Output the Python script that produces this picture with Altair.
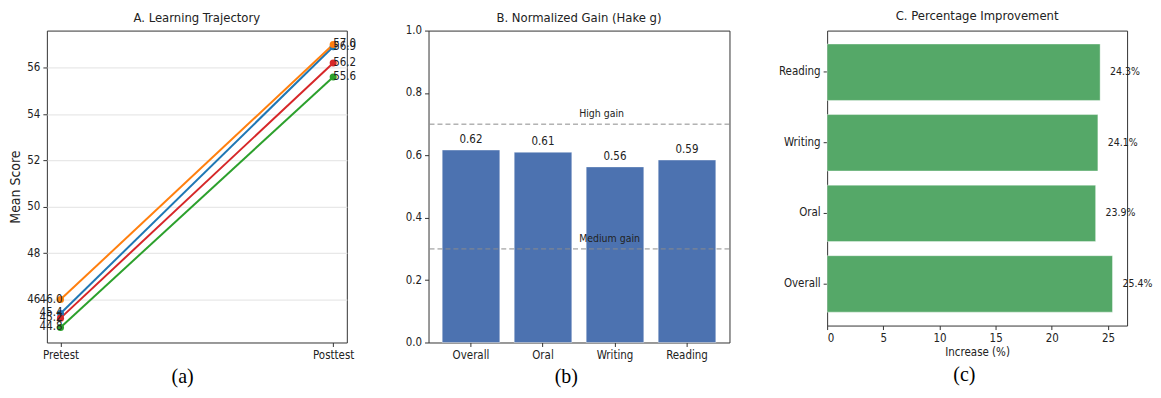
import altair as alt
import pandas as pd

# ---------------- data ----------------
skills = ["Overall", "Oral", "Writing", "Reading"]
phases = ["Pretest", "Posttest"]
pretest = [45.4, 46.0, 44.8, 45.2]
posttest = [56.9, 57.0, 55.6, 56.2]
hake_g = [0.617, 0.610, 0.563, 0.585]
hake_labels = ["0.62", "0.61", "0.56", "0.59"]
pct_improve = [25.4, 23.9, 24.1, 24.3]
threshold_values = [0.7, 0.3]
threshold_names = ["High gain", "Medium gain"]
line_colors = ["#1f77b4", "#ff7f0e", "#2ca02c", "#d62728"]
score_ticks = [46, 48, 50, 52, 54, 56]

FONT = "DejaVu Sans Condensed, DejaVu Sans"
INK = "#222222"

rows = []
for s, a, b in zip(skills, pretest, posttest):
    rows.append({"skill": s, "phase": phases[0], "score": a, "label": f"{a:.1f}"})
    rows.append({"skill": s, "phase": phases[1], "score": b, "label": f"{b:.1f}"})
traj_df = pd.DataFrame(rows)

gain_df = pd.DataFrame({"skill": skills, "g": hake_g, "label": hake_labels})
thr_df = pd.DataFrame({"t": threshold_values, "name": threshold_names, "skill": ["Writing", "Writing"]})
pct_df = pd.DataFrame({"skill": skills, "pct": pct_improve,
                       "lbl": [f"{v:.1f}%" for v in pct_improve]})

# ---------------- panel A ----------------
xa = alt.X("phase:N", sort=phases, scale=alt.Scale(type="point", padding=0.05),
           axis=alt.Axis(title=None, labelAngle=0, grid=False))
ya = alt.Y("score:Q", scale=alt.Scale(domain=[44.15, 57.6], nice=False, zero=False),
           axis=alt.Axis(title="Mean Score", values=score_ticks, grid=True,
                         gridColor="#e8e8e8", gridWidth=1.2, titleFontSize=14,
                         minExtent=20, maxExtent=20, titlePadding=4))
col = alt.Color("skill:N", scale=alt.Scale(domain=skills, range=line_colors), legend=None)

base_a = alt.Chart(traj_df).encode(x=xa, y=ya, color=col, detail="skill:N")
lines_a = base_a.mark_line(strokeWidth=2)
pts_a = base_a.mark_circle(size=50, opacity=1)
pre_txt = alt.Chart(traj_df).transform_filter(alt.datum.phase == "Pretest").mark_text(
    align="right", baseline="middle", dx=2, fontSize=11.5, font=FONT, color=INK
).encode(x=xa, y=ya, text="label:N")
post_txt = alt.Chart(traj_df).transform_filter(alt.datum.phase == "Posttest").mark_text(
    align="left", baseline="middle", dx=0, fontSize=11.5, font=FONT, color=INK
).encode(x=xa, y=ya, text="label:N")

panel_a = alt.layer(lines_a, pts_a, pre_txt, post_txt).properties(
    width=301, height=313,
    title=alt.Title("A. Learning Trajectory", frame="group", offset=6))

# ---------------- panel B ----------------
xb = alt.X("skill:N", sort=skills, scale=alt.Scale(paddingInner=0.2, paddingOuter=0.19),
           axis=alt.Axis(title=None, labelAngle=0))
yb = alt.Y("g:Q", scale=alt.Scale(domain=[0, 1], nice=False),
           axis=alt.Axis(title=None, values=[0, 0.2, 0.4, 0.6, 0.8, 1.0], format=".1f",
                         grid=False, minExtent=26, maxExtent=26))
bars_b = alt.Chart(gain_df).mark_bar(color="#4c72b0", stroke="white", strokeWidth=1,
                                     strokeOpacity=0.4).encode(x=xb, y=yb)
txt_b = alt.Chart(gain_df).mark_text(baseline="bottom", dy=-5, fontSize=11.5, font=FONT,
                                     color=INK).encode(x=xb, y=yb, text="label:N")
rules_b = alt.Chart(thr_df).mark_rule(strokeDash=[5, 3], color="#8c8c8c", strokeWidth=1).encode(
    y=alt.Y("t:Q"))
rule_txt = alt.Chart(thr_df).mark_text(align="left", baseline="bottom", dx=-36, dy=-5,
                                       fontSize=10.5, font=FONT, color=INK).encode(
    x=alt.X("skill:N", sort=skills), y=alt.Y("t:Q"), text="name:N")

panel_b = alt.layer(bars_b, rules_b, rule_txt, txt_b).properties(
    width=302, height=313,
    title=alt.Title("B. Normalized Gain (Hake g)", frame="group", offset=0))

# ---------------- panel C ----------------
yc = alt.Y("skill:N", sort=list(reversed(skills)),
           scale=alt.Scale(paddingInner=0.2, paddingOuter=0.19),
           axis=alt.Axis(title=None, minExtent=51, maxExtent=51))
xc = alt.X("pct:Q", scale=alt.Scale(domain=[0, 26.7], nice=False),
           axis=alt.Axis(title="Increase (%)", values=[0, 5, 10, 15, 20, 25], grid=False,
                         titlePadding=3, titleFontSize=11.5))
bars_c = alt.Chart(pct_df).mark_bar(color="#55a868", stroke="white", strokeWidth=1,
                                    strokeOpacity=0.4).encode(x=xc, y=yc)
txt_c = alt.Chart(pct_df).mark_text(align="left", baseline="middle", dx=10, fontSize=10.5,
                                    font=FONT, color=INK).encode(x=xc, y=yc, text="lbl:N")
panel_c = alt.layer(bars_c, txt_c).properties(
    width=301, height=296,
    title=alt.Title("C. Percentage Improvement", frame="group", offset=8))


def caption(ch, txt):
    return alt.vconcat(ch, title=alt.Title(txt, orient="bottom", font="Liberation Serif",
                                           fontSize=20, fontWeight="normal", color="black",
                                           offset=6, anchor="middle", frame="bounds"))


chart = alt.hconcat(
    caption(panel_a, "(a)"), caption(panel_b, "(b)"), caption(panel_c, "(c)"), spacing=45,
    padding={"left": 0, "top": 0, "right": 0, "bottom": 0}
).configure_view(stroke="#333333", strokeWidth=1).configure_axis(
    domain=False, tickColor="#333333", tickSize=4, labelPadding=3,
    labelFont=FONT, labelFontSize=11.5, labelColor=INK,
    titleFont=FONT, titleFontSize=11.5, titleFontWeight="normal", titleColor=INK
).configure_title(font=FONT, fontSize=13, fontWeight="normal", color=INK)

chart.save("out.html", embed_options={"renderer": "svg", "actions": False})
